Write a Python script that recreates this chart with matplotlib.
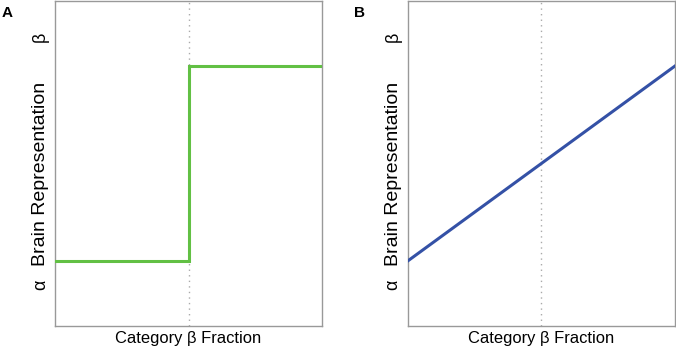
import matplotlib
matplotlib.use("Agg")
import matplotlib.pyplot as plt

# Data
step_x = [0.0, 0.5, 0.5, 1.0]
step_y = [0.2, 0.2, 0.8, 0.8]
lin_x = [0.0, 1.0]
lin_y = [0.2, 0.8]
tick_pos = [0.126, 0.89]
tick_labels = ["α", "β"]
panel_labels = ["A", "B"]
xlabel = "Category β Fraction"
ylabel = "Brain Representation"

plt.rcParams['font.family'] = ['Liberation Sans', 'DejaVu Sans']

fig = plt.figure(figsize=(6.76, 3.49), dpi=100)
axA = fig.add_axes([55/676, 23/349, (322-55)/676, (326-1)/349])
axB = fig.add_axes([407.7/676, 23/349, (675-407.7)/676, (326-1)/349])

for ax, xs, ys, col in [(axA, step_x, step_y, "#62c044"),
                        (axB, lin_x, lin_y, "#3451a6")]:
    ax.plot(xs, ys, color=col, lw=2.2, solid_joinstyle='miter', zorder=3)
    ax.axvline(0.5, color="#aaaaaa", lw=1, ls=(0, (1, 3)), zorder=2)
    ax.set_xlim(0, 1)
    ax.set_ylim(0, 1)
    ax.set_xticks([])
    ax.set_yticks(tick_pos)
    ax.set_yticklabels(tick_labels, rotation=90, va='center', fontsize=13)
    ax.tick_params(axis='y', length=0, pad=4.5)
    for s in ax.spines.values():
        s.set_color("#999999")
        s.set_linewidth(1)
    ax.set_xlabel(xlabel, fontsize=11.9, labelpad=3.5)
    ax.set_ylabel(ylabel, fontsize=14)
    ax.yaxis.set_label_coords(-0.022, 0.468)

fig.text(2/676, 1 - 6/349, panel_labels[0], fontsize=11, fontweight='bold', va='top', ha='left')
fig.text(354/676, 1 - 6/349, panel_labels[1], fontsize=11, fontweight='bold', va='top', ha='left')

fig.savefig("out.png", dpi=100)
